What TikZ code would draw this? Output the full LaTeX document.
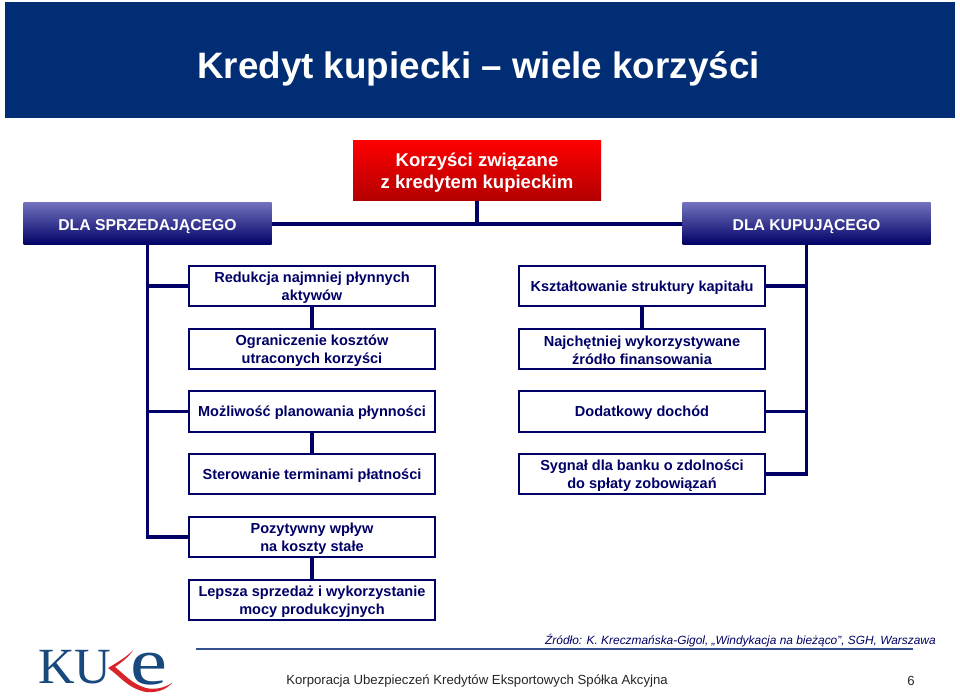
\documentclass[tikz,border=0pt]{standalone}
\usepackage{fontspec}
\setmainfont{Liberation Sans}
\newfontfamily\logofont{Liberation Serif}
\newcommand{\dropbox}{\rule{0pt}{10pt}}
\newcommand{\droproot}{\rule{0pt}{13pt}}
\definecolor{navy}{HTML}{000066}
\definecolor{banner}{HTML}{002D74}
\definecolor{kblue}{HTML}{17497F}
\definecolor{kred}{HTML}{D8232A}
\definecolor{rulec}{HTML}{35508F}
\definecolor{headtop}{HTML}{7070BC}
\tikzset{
  box/.style={draw=navy,line width=1.5pt,fill=white,minimum width=185pt,minimum height=30.5pt,inner sep=0pt,align=center,text=navy,font=\fontsize{10.9}{13.4}\selectfont\bfseries,execute at begin node={\rule{0pt}{10.5pt}}},
  head/.style={minimum width=186pt,minimum height=31.5pt,inner sep=0pt,text=white,align=center,font=\fontsize{11.8}{14}\selectfont\bfseries,top color=headtop,bottom color=navy,execute at begin node={\rule{0pt}{11.5pt}}},
  link/.style={draw=navy,line width=2.4pt},
}
\begin{document}
\begin{tikzpicture}[x=0.75pt,y=-0.75pt]
\useasboundingbox (0,0) rectangle (960,698);
\fill[white] (0,0) rectangle (960,698);
\node[fill=banner,minimum width=713pt,minimum height=87.5pt,inner sep=0pt] (ban) at (480,60) {};
\node[text=white,font=\fontsize{27.6}{30}\selectfont\bfseries,inner sep=0pt] (title) at (478.5,69) {Kredyt kupiecki -- wiele korzyści};
\node[minimum width=186pt,minimum height=45pt,inner sep=0pt,top color=red,bottom color=red!70!black,text=white,align=center,font=\fontsize{13.9}{16.6}\selectfont\bfseries] (root) at (477,170.5) {\droproot Korzyści związane\\z kredytem kupieckim};
\node[head] (sell) at (147.5,224) {DLA SPRZEDAJĄCEGO};
\node[head] (buy) at (806.5,224) {DLA KUPUJĄCEGO};
\node[box] (a1) at (312,286) {\dropbox Redukcja najmniej płynnych\\aktywów};
\node[box] (a2) at (312,349) {\dropbox Ograniczenie kosztów\\utraconych korzyści};
\node[box] (a3) at (312,411.5) {Możliwość planowania płynności};
\node[box] (a4) at (312,474) {Sterowanie terminami płatności};
\node[box] (a5) at (312,537) {\dropbox Pozytywny wpływ\\na koszty stałe};
\node[box] (a6) at (312,600) {\dropbox Lepsza sprzedaż i wykorzystanie\\mocy produkcyjnych};
\node[box] (b1) at (642,286) {Kształtowanie struktury kapitału};
\node[box] (b2) at (642,349) {\dropbox Najchętniej wykorzystywane\\źródło finansowania};
\node[box] (b3) at (642,411.5) {Dodatkowy dochód};
\node[box] (b4) at (642,474) {\dropbox Sygnał dla banku o zdolności\\do spłaty zobowiązań};
\coordinate (hub) at (root.south |- sell.east);
\draw[link] (root.south) -- (hub);
\draw[link] (sell.east) -- (buy.west);
\draw[link] (sell.south) |- (a1.west);
\draw[link] (sell.south) |- (a3.west);
\draw[link] (sell.south) |- (a5.west);
\draw[link] (buy.south) |- (b1.east);
\draw[link] (buy.south) |- (b3.east);
\draw[link] (buy.south) |- (b4.east);
\draw[link] (a1) -- (a2);
\draw[link] (a3) -- (a4);
\draw[link] (a5) -- (a6);
\draw[link] (b1) -- (b2);
\node[text=navy,font=\fontsize{8.93}{11}\selectfont\itshape,anchor=east,inner sep=0pt] (src) at (936,641) {Źródło: K. Kreczmańska-Gigol, „Windykacja na bieżąco”, SGH, Warszawa};
\coordinate (ruleL) at (196,649);
\coordinate (ruleR) at (913,649);
\draw[rulec,line width=0.9pt] (ruleL) -- (ruleR);
\node[text=black!85,font=\fontsize{9.88}{12}\selectfont,anchor=west,inner sep=0pt] (foot) at (286,681) {Korporacja Ubezpieczeń Kredytów Eksportowych Spółka Akcyjna};
\node[text=black!85,font=\fontsize{9.88}{12}\selectfont,inner sep=0pt] (pg) at (911,681) {6};
% logo
\node[text=kblue,font=\logofont\fontsize{38}{38}\selectfont,inner sep=0pt,anchor=base west] (logo1) at (38,683) {KU};
\node[text=kblue,font=\logofont\fontsize{50}{50}\selectfont,inner sep=0pt,anchor=base west,xscale=1.25] (logo2) at (130,684) {e};
\fill[kred] (133,650) .. controls (128,656) and (118,662) .. (108,668) .. controls (120,676) and (127,688) .. (146,692) .. controls (156,693) and (166,690) .. (172,683) .. controls (164,688) and (155,690) .. (146,688) .. controls (132,684) and (124,674) .. (115,667) .. controls (122,662) and (130,656) .. (133,650) -- cycle;
\end{tikzpicture}
\end{document}
